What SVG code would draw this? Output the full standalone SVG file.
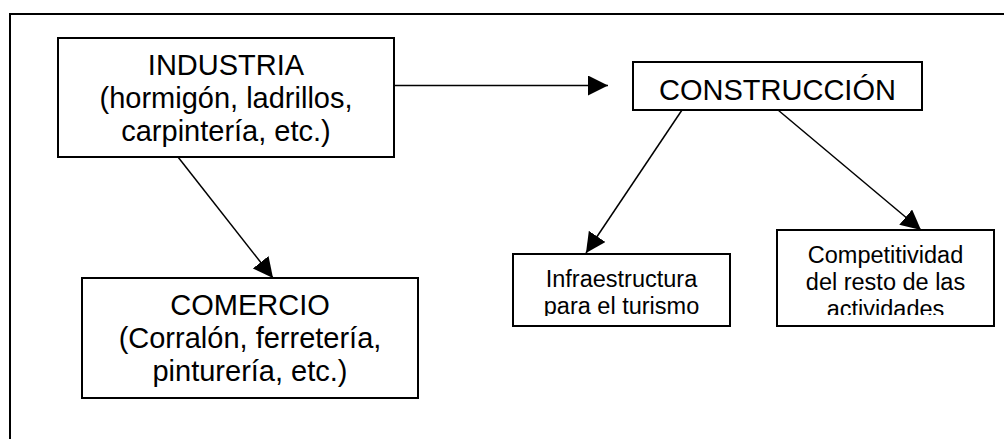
<svg xmlns="http://www.w3.org/2000/svg" width="1004" height="439" viewBox="0 0 1004 439">
<style>
.box{fill:#fff;stroke:#000;stroke-width:2}
.t{font-family:"Liberation Sans",Arial,sans-serif;fill:#000;text-anchor:middle}
.big{font-size:29px}
.sm{font-size:23.5px}
.conn{stroke:#000;stroke-width:1.5;fill:none;marker-end:url(#ah)}
</style>
<defs>
<marker id="ah" viewBox="0 0 20 20" refX="20" refY="10" markerWidth="20" markerHeight="20" markerUnits="userSpaceOnUse" orient="auto">
<path d="M0,0 L20,10 L0,20 z" fill="#000"/>
</marker>
<clipPath id="c1"><rect x="513" y="254" width="217" height="62"/></clipPath>
<clipPath id="c2"><rect x="777" y="230" width="217" height="85"/></clipPath>
</defs>
<rect width="1004" height="439" fill="#fff"/>
<g id="frame"><path d="M10,439 V14 H1004" fill="none" stroke="#000" stroke-width="2"/></g>
<g id="connectors">
<line class="conn" x1="394" y1="85.5" x2="608" y2="85.5"/>
<line class="conn" x1="178" y1="157" x2="273" y2="278"/>
<line class="conn" x1="682" y1="110" x2="586" y2="253"/>
<line class="conn" x1="778" y1="110" x2="921" y2="230"/>
</g>
<g id="industria">
<rect class="box" x="58" y="38" width="336" height="119"/>
<text class="t big" x="226" y="75">INDUSTRIA</text>
<text class="t big" x="226" y="108">(hormigón, ladrillos,</text>
<text class="t big" x="226" y="141">carpintería, etc.)</text>
</g>
<g id="comercio">
<rect class="box" x="82" y="278" width="336" height="120"/>
<text class="t big" x="250" y="315">COMERCIO</text>
<text class="t big" x="250" y="348">(Corralón, ferretería,</text>
<text class="t big" x="250" y="381">pinturería, etc.)</text>
</g>
<g id="construccion">
<rect class="box" x="633" y="62" width="289" height="48"/>
<text class="t big" x="777.5" y="100">CONSTRUCCIÓN</text>
</g>
<g id="infraestructura">
<rect class="box" x="513" y="254" width="217" height="72"/>
<g clip-path="url(#c1)">
<text class="t sm" x="621.5" y="287">Infraestructura</text>
<text class="t sm" x="621.5" y="314">para el turismo</text>
</g>
</g>
<g id="competitividad">
<rect class="box" x="777" y="230" width="217" height="96"/>
<g clip-path="url(#c2)">
<text class="t sm" x="885.5" y="263">Competitividad</text>
<text class="t sm" x="885.5" y="290">del resto de las</text>
<text class="t sm" x="885.5" y="317">actividades</text>
</g>
</g>
</svg>
